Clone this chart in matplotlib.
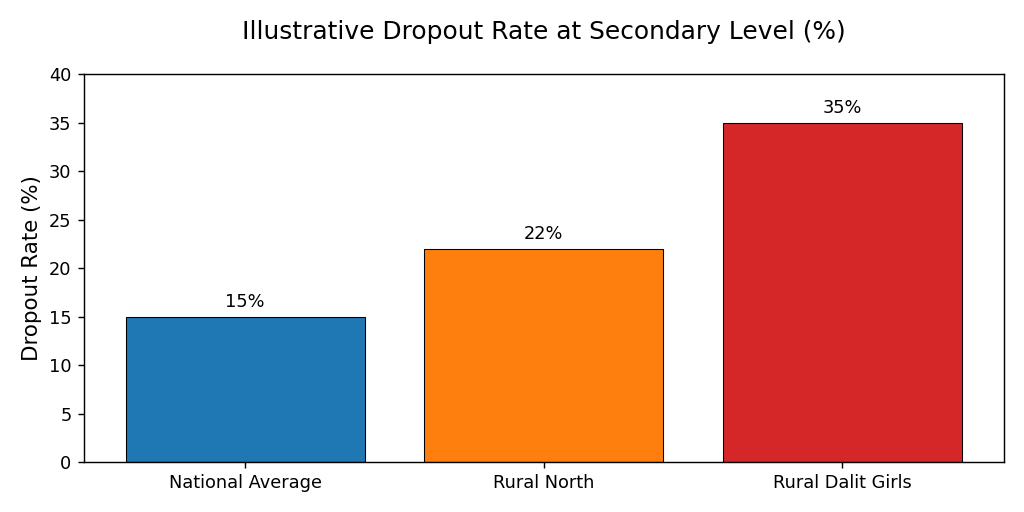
import matplotlib
matplotlib.use("Agg")
import matplotlib.pyplot as plt

categories = ["National Average", "Rural North", "Rural Dalit Girls"]
values = [15, 22, 35]
colors = ["#1f77b4", "#ff7f0e", "#d62728"]

fig, ax = plt.subplots(figsize=(8, 4), dpi=128)
fig.subplots_adjust(left=0.082, right=0.980, top=0.855, bottom=0.0977)
bars = ax.bar(categories, values, color=colors, edgecolor="black", linewidth=0.6, width=0.8)
for b, v in zip(bars, values):
    ax.annotate(f"{v}%", (b.get_x() + b.get_width() / 2, v), xytext=(0, 3),
                textcoords="offset points", ha="center", va="bottom", fontsize=10)
ax.set_ylim(0, 40)
ax.set_ylabel("Dropout Rate (%)", fontsize=12)
ax.set_title("Illustrative Dropout Rate at Secondary Level (%)", fontsize=14, pad=20)
fig.savefig("out.png", dpi=128)
